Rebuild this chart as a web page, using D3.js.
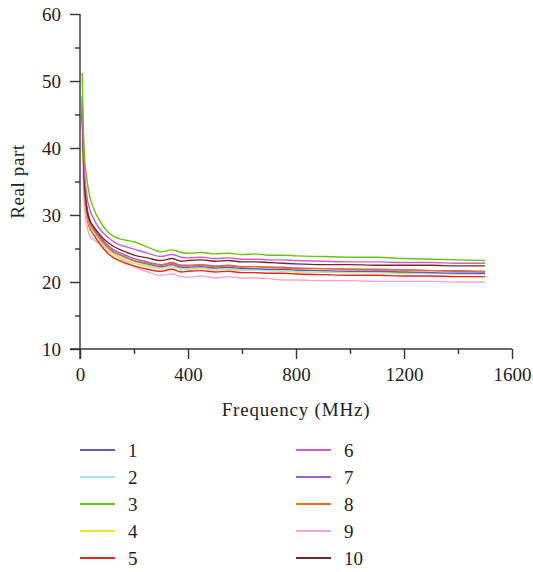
<!DOCTYPE html>
<html>
<head>
<meta charset="UTF-8">
<title>Real part vs frequency</title>
<style>
  html, body { margin: 0; padding: 0; background: #fff; }
  svg { display: block; }
  text { font-family: "Liberation Serif", "Times New Roman", serif; fill: #222; }
</style>
</head>
<body>
<svg width="533" height="572"></svg>
<script src="https://d3js.org/d3.v7.min.js"></script>
<script>
// data
var freq = [8, 15, 25, 35, 50, 75, 100, 125, 150, 175, 200, 250, 300, 340, 375, 400, 450, 500, 550, 600, 650, 700, 750, 800, 900, 1000, 1100, 1200, 1300, 1400, 1500];

var s1  = [47.8, 36.5, 30.8, 29.0, 27.9, 26.5, 25.3, 24.5, 24.0, 23.6, 23.2, 22.7, 22.3, 22.6, 22.2, 22.2, 22.3, 22.1, 22.2, 22.0, 22.0, 21.9, 21.9, 21.8, 21.7, 21.6, 21.6, 21.5, 21.4, 21.3, 21.3];
var s2  = [46.0, 36.0, 30.5, 28.7, 27.6, 26.2, 25.0, 24.2, 23.7, 23.3, 23.0, 22.5, 22.1, 22.4, 22.0, 22.0, 22.1, 21.9, 22.0, 21.8, 21.8, 21.7, 21.7, 21.6, 21.5, 21.5, 21.4, 21.4, 21.3, 21.3, 21.2];
var s3  = [51.2, 40.0, 35.5, 33.0, 31.0, 29.0, 27.6, 26.8, 26.4, 26.2, 26.0, 25.2, 24.5, 24.8, 24.4, 24.3, 24.4, 24.2, 24.3, 24.1, 24.2, 24.0, 24.0, 23.9, 23.8, 23.7, 23.7, 23.5, 23.4, 23.3, 23.2];
var s4  = [45.0, 35.5, 30.3, 28.5, 27.4, 26.0, 24.8, 24.0, 23.5, 23.1, 22.8, 22.3, 22.0, 22.3, 21.9, 21.9, 22.0, 21.8, 21.9, 21.7, 21.8, 21.7, 21.6, 21.5, 21.5, 21.4, 21.4, 21.3, 21.3, 21.2, 21.2];
var s5  = [45.5, 35.0, 30.0, 28.2, 27.1, 25.6, 24.4, 23.6, 23.1, 22.7, 22.4, 21.9, 21.6, 21.9, 21.5, 21.6, 21.7, 21.5, 21.6, 21.4, 21.4, 21.3, 21.3, 21.2, 21.1, 21.0, 21.0, 20.9, 20.9, 20.8, 20.8];
var s6  = [47.0, 38.0, 33.0, 31.0, 29.5, 27.8, 26.8, 26.0, 25.5, 25.2, 24.9, 24.3, 23.8, 24.1, 23.7, 23.6, 23.7, 23.5, 23.6, 23.4, 23.4, 23.3, 23.3, 23.2, 23.1, 23.0, 23.0, 22.9, 22.9, 22.8, 22.8];
var s7  = [46.5, 37.0, 31.5, 29.5, 28.2, 26.8, 25.6, 24.8, 24.3, 23.9, 23.5, 23.0, 22.6, 22.9, 22.5, 22.5, 22.6, 22.4, 22.5, 22.3, 22.3, 22.2, 22.2, 22.1, 22.0, 21.9, 21.9, 21.8, 21.7, 21.6, 21.5];
var s8  = [45.8, 35.5, 30.5, 28.8, 27.8, 26.4, 25.3, 24.5, 24.0, 23.6, 23.2, 22.8, 22.5, 22.8, 22.4, 22.4, 22.5, 22.3, 22.4, 22.2, 22.3, 22.2, 22.1, 22.0, 22.0, 21.9, 21.8, 21.8, 21.7, 21.7, 21.6];
var s9  = [44.0, 32.0, 28.5, 27.0, 26.3, 25.7, 25.1, 24.2, 23.5, 22.9, 22.3, 21.5, 21.0, 21.2, 20.8, 20.7, 20.9, 20.6, 20.8, 20.6, 20.6, 20.5, 20.3, 20.3, 20.2, 20.2, 20.1, 20.1, 20.1, 20.0, 20.0];
var s10 = [45.0, 36.0, 31.0, 29.3, 28.3, 27.0, 26.0, 25.3, 24.8, 24.4, 24.0, 23.6, 23.2, 23.5, 23.1, 23.2, 23.3, 23.1, 23.2, 23.0, 23.0, 22.9, 22.8, 22.7, 22.6, 22.6, 22.5, 22.5, 22.5, 22.4, 22.4];

var names = ["1", "2", "3", "4", "5", "6", "7", "8", "9", "10"];
var colors = ["#5b5fc0", "#a9e3ea", "#6cc217", "#f2e22a", "#ee2222", "#d45cc4", "#a05cc8", "#f26a1e", "#f4a6cc", "#6e2a2a"];
var series = [s1, s2, s3, s4, s5, s6, s7, s8, s9, s10];

var xTicks = [0, 400, 800, 1200, 1600];
var xMinor = [200, 600, 1000, 1400];
var yTicks = [10, 20, 30, 40, 50, 60];
var yMinor = [15, 25, 35, 45, 55];

var svg = d3.select("svg");

var x = d3.scaleLinear().domain([0, 1600]).range([80, 512]);
var y = d3.scaleLinear().domain([10, 60]).range([349, 14]);

var axisColor = "#333";

// lines (drawn first so axes sit on top)
var line = d3.line()
    .x(function (d, i) { return x(freq[i]); })
    .y(function (d) { return y(d); })
    .curve(d3.curveMonotoneX);

// draw order so the top lines stay visible
var order = [8, 4, 3, 1, 0, 6, 7, 9, 5, 2];
order.forEach(function (k) {
    svg.append("path")
        .attr("d", line(series[k]))
        .attr("fill", "none")
        .attr("stroke", colors[k])
        .attr("stroke-width", 1.4);
});

// x axis
var gx = svg.append("g").attr("transform", "translate(0,349)");
gx.call(d3.axisBottom(x).tickValues(xTicks).tickSize(10).tickPadding(9).tickFormat(d3.format("d")));
gx.append("g").call(d3.axisBottom(x).tickValues(xMinor).tickSize(5).tickFormat(""));
gx.selectAll(".domain").remove();
gx.append("line").attr("x1", x(0) - 10).attr("x2", x(1600)).attr("y1", 0).attr("y2", 0);

// y axis
var gy = svg.append("g").attr("transform", "translate(80,0)");
gy.call(d3.axisLeft(y).tickValues(yTicks).tickSize(10).tickPadding(9));
gy.append("g").call(d3.axisLeft(y).tickValues(yMinor).tickSize(5).tickFormat(""));
gy.selectAll(".domain").remove();
gy.append("line").attr("x1", 0).attr("x2", 0).attr("y1", y(60)).attr("y2", y(10) + 10);

svg.selectAll(".tick line").attr("stroke", axisColor).attr("stroke-width", 1.4);
gx.selectAll("line").attr("stroke", axisColor).attr("stroke-width", 1.4);
gy.selectAll("line").attr("stroke", axisColor).attr("stroke-width", 1.4);
svg.selectAll(".tick text")
    .attr("font-family", "Liberation Serif, serif")
    .attr("font-size", 19)
    .attr("fill", "#222");

// axis titles
svg.append("text")
    .attr("x", (x(0) + x(1600)) / 2)
    .attr("y", 416)
    .attr("text-anchor", "middle")
    .attr("font-size", 19)
    .attr("letter-spacing", 0.8)
    .text("Frequency (MHz)");

svg.append("text")
    .attr("transform", "translate(24," + ((y(10) + y(60)) / 2) + ") rotate(-90)")
    .attr("text-anchor", "middle")
    .attr("font-size", 19)
    .attr("letter-spacing", 0.6)
    .text("Real part");

// legend, two columns of five
var legend = svg.append("g");
names.forEach(function (n, i) {
    var col = Math.floor(i / 5), row = i % 5;
    var lx = 80 + col * 216, ly = 450 + row * 27;
    legend.append("line")
        .attr("x1", lx).attr("x2", lx + 35)
        .attr("y1", ly).attr("y2", ly)
        .attr("stroke", colors[i])
        .attr("stroke-width", 2);
    legend.append("text")
        .attr("x", lx + 48)
        .attr("y", ly + 6.5)
        .attr("font-size", 19)
        .text(n);
});
</script>
</body>
</html>
